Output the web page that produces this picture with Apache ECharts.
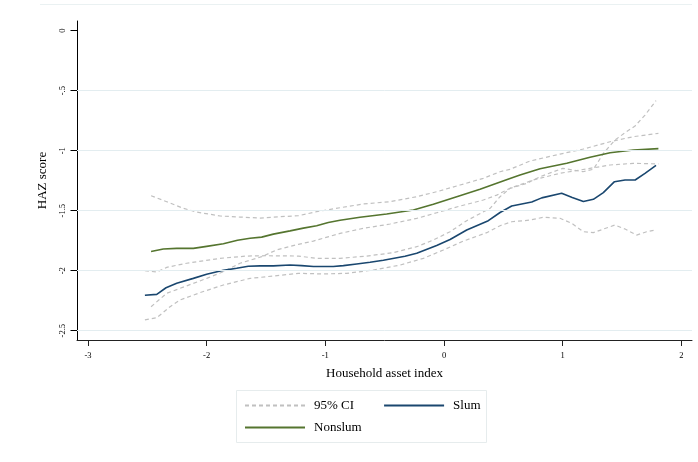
<!DOCTYPE html>
<html><head><meta charset="utf-8">
<script src="https://cdn.jsdelivr.net/npm/echarts@6/dist/echarts.min.js"></script>
<style>html,body{margin:0;padding:0;background:#fff}#c{width:698px;height:462px}</style>
</head><body><div id="c"></div>
<script>
const xTicks = [-3, -2, -1, 0, 1, 2];
const yTicks = [0, -0.5, -1, -1.5, -2, -2.5];
const yTickLabels = ['0', '-.5', '-1', '-1.5', '-2', '-2.5'];
const gridValues = [-0.5, -1, -1.5, -2, -2.5];

const slum = [[-2.52,-2.205],[-2.42,-2.197],[-2.342,-2.142],[-2.252,-2.105],[-2.112,-2.064],[-2.0,-2.03],[-1.859,-1.997],[-1.747,-1.98],[-1.649,-1.963],[-1.55,-1.96],[-1.438,-1.96],[-1.297,-1.953],[-1.2,-1.958],[-1.1,-1.965],[-0.933,-1.965],[-0.848,-1.958],[-0.736,-1.944],[-0.623,-1.93],[-0.511,-1.913],[-0.329,-1.88],[-0.23,-1.855],[-0.062,-1.79],[0.051,-1.74],[0.191,-1.661],[0.373,-1.583],[0.472,-1.515],[0.57,-1.461],[0.739,-1.427],[0.823,-1.393],[0.991,-1.355],[1.08,-1.389],[1.174,-1.423],[1.258,-1.405],[1.342,-1.349],[1.436,-1.258],[1.525,-1.244],[1.61,-1.244],[1.693,-1.189],[1.786,-1.123]];

const nonslum = [[-2.468,-1.84],[-2.365,-1.819],[-2.252,-1.814],[-2.112,-1.814],[-2.0,-1.797],[-1.859,-1.776],[-1.74,-1.746],[-1.634,-1.73],[-1.536,-1.72],[-1.438,-1.695],[-1.297,-1.668],[-1.185,-1.645],[-1.073,-1.625],[-0.975,-1.598],[-0.876,-1.58],[-0.708,-1.555],[-0.483,-1.528],[-0.258,-1.494],[-0.09,-1.447],[0.107,-1.383],[0.303,-1.322],[0.444,-1.272],[0.556,-1.232],[0.64,-1.203],[0.809,-1.15],[1.034,-1.105],[1.23,-1.055],[1.399,-1.017],[1.595,-0.994],[1.806,-0.983]];

const slumUpper = [[-2.52,-2.0],[-2.42,-2.011],[-2.336,-1.972],[-2.168,-1.938],[-1.887,-1.897],[-1.662,-1.878],[-1.494,-1.875],[-1.227,-1.878],[-1.073,-1.897],[-0.876,-1.897],[-0.651,-1.878],[-0.427,-1.85],[-0.23,-1.8],[-0.09,-1.744],[0.051,-1.675],[0.191,-1.583],[0.388,-1.48],[0.472,-1.383],[0.556,-1.314],[0.697,-1.272],[0.81,-1.216],[1.0,-1.147],[1.169,-1.175],[1.258,-1.155],[1.343,-1.022],[1.44,-0.911],[1.525,-0.85],[1.609,-0.794],[1.693,-0.703],[1.786,-0.583]];

const slumLower = [[-2.52,-2.41],[-2.42,-2.392],[-2.308,-2.3],[-2.224,-2.244],[-2.056,-2.183],[-1.859,-2.119],[-1.634,-2.064],[-1.438,-2.044],[-1.227,-2.022],[-1.017,-2.027],[-0.82,-2.022],[-0.595,-1.994],[-0.371,-1.953],[-0.174,-1.897],[-0.006,-1.828],[0.163,-1.753],[0.36,-1.683],[0.472,-1.625],[0.57,-1.592],[0.725,-1.578],[0.837,-1.555],[0.977,-1.563],[1.076,-1.605],[1.174,-1.675],[1.258,-1.683],[1.343,-1.653],[1.44,-1.619],[1.525,-1.653],[1.623,-1.703],[1.707,-1.675],[1.777,-1.661]];

const nonslumUpper = [[-2.468,-1.375],[-2.336,-1.425],[-2.196,-1.48],[-2.084,-1.511],[-1.887,-1.544],[-1.719,-1.553],[-1.55,-1.561],[-1.382,-1.55],[-1.227,-1.542],[-1.073,-1.508],[-0.876,-1.475],[-0.68,-1.444],[-0.455,-1.425],[-0.23,-1.383],[-0.062,-1.342],[0.135,-1.286],[0.331,-1.23],[0.472,-1.175],[0.556,-1.155],[0.725,-1.086],[0.977,-1.028],[1.174,-0.986],[1.399,-0.925],[1.595,-0.883],[1.806,-0.855]];

const nonslumLower = [[-2.468,-2.3],[-2.336,-2.188],[-2.224,-2.147],[-1.999,-2.064],[-1.859,-2.008],[-1.719,-1.938],[-1.536,-1.883],[-1.41,-1.827],[-1.227,-1.78],[-1.101,-1.753],[-0.876,-1.689],[-0.68,-1.647],[-0.455,-1.611],[-0.23,-1.564],[-0.062,-1.517],[0.135,-1.461],[0.331,-1.411],[0.444,-1.37],[0.556,-1.313],[0.752,-1.244],[0.977,-1.188],[1.23,-1.147],[1.399,-1.119],[1.595,-1.105],[1.806,-1.11]];

const FONT = '"Liberation Serif","Times New Roman",serif';
const ciStyle = {color:'#c0c0c0', width:1.2, type:[4,3]};
function ci(data){
  return {name:'95% CI', type:'line', data:data, symbol:'none', showSymbol:false, z:3,
    lineStyle:ciStyle, itemStyle:{color:'#c0c0c0'}, silent:true};
}
const legendText = {fontFamily:FONT, fontSize:13, color:'#000', padding:[0,0,0,4]};

const chart = echarts.init(document.getElementById('c'), null, {renderer:'canvas'});
chart.setOption({
  animation:false,
  backgroundColor:'#fff',
  textStyle:{fontFamily:FONT},
  grid:{left:77, top:21, width:615, height:319, containLabel:false},
  xAxis:{type:'value', min:-3.092, max:2.089,
    name:'Household asset index', nameLocation:'middle', nameGap:27,
    nameTextStyle:{fontFamily:FONT, fontSize:13, color:'#000'},
    axisLine:{show:true, onZero:false, lineStyle:{color:'#222', width:1}},
    axisTick:{show:true, length:6, customValues:xTicks, lineStyle:{color:'#222'}},
    axisLabel:{customValues:xTicks, fontFamily:FONT, fontSize:8.5, color:'#000', margin:11},
    splitLine:{show:false}},
  yAxis:{type:'value', min:-2.5775, max:0.081,
    name:'HAZ score', nameLocation:'middle', nameGap:28,
    nameTextStyle:{fontFamily:FONT, fontSize:13, color:'#000'},
    axisLine:{show:true, onZero:false, lineStyle:{color:'#000', width:1}},
    axisTick:{show:true, length:6.5, customValues:yTicks, lineStyle:{color:'#000'}},
    axisLabel:{customValues:yTicks, rotate:90, fontFamily:FONT, fontSize:8.5, color:'#000', margin:10,
      formatter:function(v){ const i = yTicks.findIndex(t=>Math.abs(t-v)<1e-6); return i>=0?yTickLabels[i]:''; }},
    splitLine:{show:false}},
  legend:[
    {data:['95% CI','Slum'], left:244, top:399, padding:0, itemWidth:60, itemHeight:12, itemGap:29,
      itemStyle:{opacity:0}, textStyle:legendText, selectedMode:false},
    {data:['Nonslum'], left:244, top:421, padding:0, itemWidth:60, itemHeight:12,
      itemStyle:{opacity:0}, textStyle:legendText, selectedMode:false}
  ],
  graphic:[
    {type:'line', shape:{x1:40, y1:4.5, x2:692, y2:4.5}, style:{stroke:'#eaf1f2', lineWidth:1}, silent:true, z:-1},
    {type:'rect', shape:{x:236.5, y:390.5, width:250, height:52}, style:{fill:'#fff', stroke:'#e6eced', lineWidth:1}, silent:true, z:-1}
  ],
  series:[
    {name:'grid', type:'line', data:[], symbol:'none', z:1, silent:true,
      markLine:{silent:true, symbol:'none', label:{show:false}, animation:false,
        lineStyle:{color:'#e3edf0', type:'solid', width:1},
        data:gridValues.map(v=>({yAxis:v}))}},
    ci(slumUpper), ci(slumLower), ci(nonslumUpper), ci(nonslumLower),
    {name:'Slum', type:'line', data:slum, symbol:'none', showSymbol:false, z:4, silent:true,
      lineStyle:{color:'#1a476f', width:1.6}, itemStyle:{color:'#1a476f'}},
    {name:'Nonslum', type:'line', data:nonslum, symbol:'none', showSymbol:false, z:4, silent:true,
      lineStyle:{color:'#55752f', width:1.6}, itemStyle:{color:'#55752f'}}
  ]
});
</script></body></html>
